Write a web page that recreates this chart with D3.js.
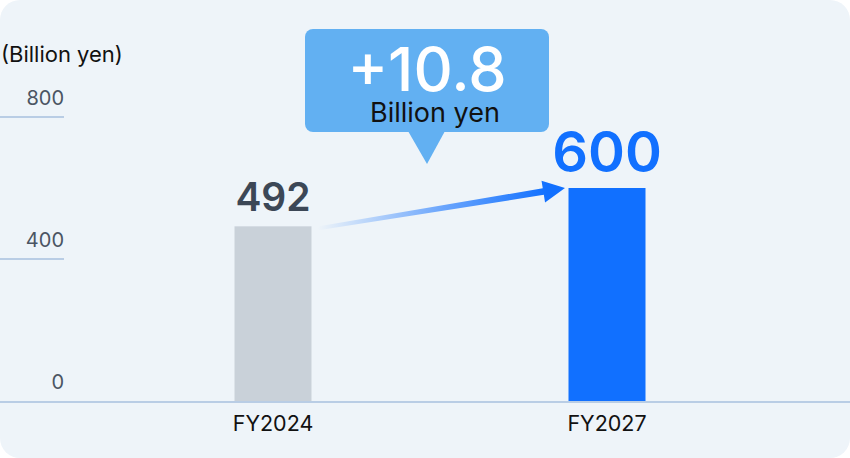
<!DOCTYPE html>
<html><head><meta charset="utf-8">
<script src="https://cdn.jsdelivr.net/npm/d3@7"></script>
<style>
html,body{margin:0;padding:0;background:#fff;}
svg{display:block;font-family:Inter,"Noto Sans",sans-serif;}
</style></head>
<body>
<svg id="chart" width="850" height="458"></svg>
<script>
const categories = ["FY2024", "FY2027"];
const values = [492, 600];
const yTicks = [0, 400, 800];
const unitLabel = "(Billion yen)";
const deltaLabel = "+10.8";
const deltaUnit = "Billion yen";
const barColors = ["#c9d1d9", "#1170ff"];
const valueColors = ["#3c4756", "#1170ff"];

const W = 850, H = 458;
const svg = d3.select("#chart");

svg.append("rect").attr("x",0).attr("y",0).attr("width",W).attr("height",H)
  .attr("rx",20).attr("fill","#eef4f9");

const y = d3.scaleLinear().domain([0, 800]).range([401, 117]);
const x = d3.scalePoint().domain(categories).range([273, 607]);
const bw = 77;

// gradient for arrow
const defs = svg.append("defs");
const g = defs.append("linearGradient").attr("id","arrowGrad")
  .attr("gradientUnits","userSpaceOnUse")
  .attr("x1", x(categories[0]) + 45).attr("y1", 0)
  .attr("x2", x(categories[1]) - 60).attr("y2", 0);
g.append("stop").attr("offset","0%").attr("stop-color","#1170ff").attr("stop-opacity",0);
g.append("stop").attr("offset","55%").attr("stop-color","#1170ff").attr("stop-opacity",0.6);
g.append("stop").attr("offset","100%").attr("stop-color","#1170ff").attr("stop-opacity",1);

// y tick lines & labels
const yAxis = svg.append("g");
yTicks.forEach(t => {
  if (t !== 0) {
    yAxis.append("line").attr("x1",0).attr("x2",64)
      .attr("y1",y(t)).attr("y2",y(t))
      .attr("stroke","#b9cde5").attr("stroke-width",2);
  }
  yAxis.append("text").attr("x",64).attr("y",y(t)-12)
    .attr("text-anchor","end").attr("font-size",20).attr("fill","#4b5563")
    .text(t);
});

svg.append("text").attr("x",1).attr("y",62).attr("font-size",22)
  .attr("fill","#111").text(unitLabel);

// bars
svg.selectAll("rect.bar").data(values).join("rect").attr("class","bar")
  .attr("x",(d,i)=>x(categories[i]) - bw/2)
  .attr("y",d=>y(d))
  .attr("width",bw)
  .attr("height",d=>y(0)-y(d))
  .attr("fill",(d,i)=>barColors[i]);

// baseline
svg.append("line").attr("x1",0).attr("x2",W).attr("y1",y(0)+1).attr("y2",y(0)+1)
  .attr("stroke","#b9cde5").attr("stroke-width",2);

// category labels
svg.selectAll("text.cat").data(categories).join("text").attr("class","cat")
  .attr("x",d=>x(d)).attr("y",431).attr("text-anchor","middle")
  .attr("font-size",21.5).attr("fill","#111").text(d=>d);

// value labels
const valueSizes = [39, 56];
const valueOffsets = [15, 16];
svg.selectAll("text.val").data(values).join("text").attr("class","val")
  .attr("x",(d,i)=>x(categories[i])).attr("y",(d,i)=>y(d)-valueOffsets[i])
  .attr("text-anchor","middle").attr("font-weight",600)
  .attr("font-size",(d,i)=>valueSizes[i])
  .attr("fill",(d,i)=>valueColors[i]).text(d=>d);

// arrow
const ax1 = x(categories[0]) + 45, ay1 = y(values[0]) + 2;
const ax2 = x(categories[1]) - 42, ay2 = y(values[1]);
const ang = Math.atan2(ay2-ay1, ax2-ax1);
const headLen = 22, headHalf = 11, shaftHalf = 3.3;
const ux = Math.cos(ang), uy = Math.sin(ang), px = -uy, py = ux;
const bx = ax2 - ux*headLen, by = ay2 - uy*headLen;
const pts = [
  [ax1 + px*shaftHalf*0.6, ay1 + py*shaftHalf*0.6],
  [bx + px*shaftHalf, by + py*shaftHalf],
  [bx + px*headHalf, by + py*headHalf],
  [ax2, ay2],
  [bx - px*headHalf, by - py*headHalf],
  [bx - px*shaftHalf, by - py*shaftHalf],
  [ax1 - px*shaftHalf*0.6, ay1 - py*shaftHalf*0.6]
];
svg.append("path").attr("d", d3.line()(pts) + "Z").attr("fill","url(#arrowGrad)");

// callout
const bx0 = 305, by0 = 29, bwid = 244, bht = 103, tipX = 427, tipY = 164;
const callout = svg.append("g");
callout.append("rect").attr("x",bx0).attr("y",by0).attr("width",bwid).attr("height",bht)
  .attr("rx",8).attr("fill","#62b0f2");
callout.append("path").attr("d", d3.line()([[tipX-19,by0+bht-1],[tipX+18,by0+bht-1],[tipX,tipY]])+"Z")
  .attr("fill","#62b0f2");
callout.append("text").attr("x",427).attr("y",91).attr("text-anchor","middle")
  .attr("font-size",61).attr("font-weight",500).attr("fill","#fff").text(deltaLabel);
callout.append("text").attr("x",435).attr("y",122).attr("text-anchor","middle")
  .attr("font-size",27).attr("fill","#111").text(deltaUnit);
</script>
</body></html>
